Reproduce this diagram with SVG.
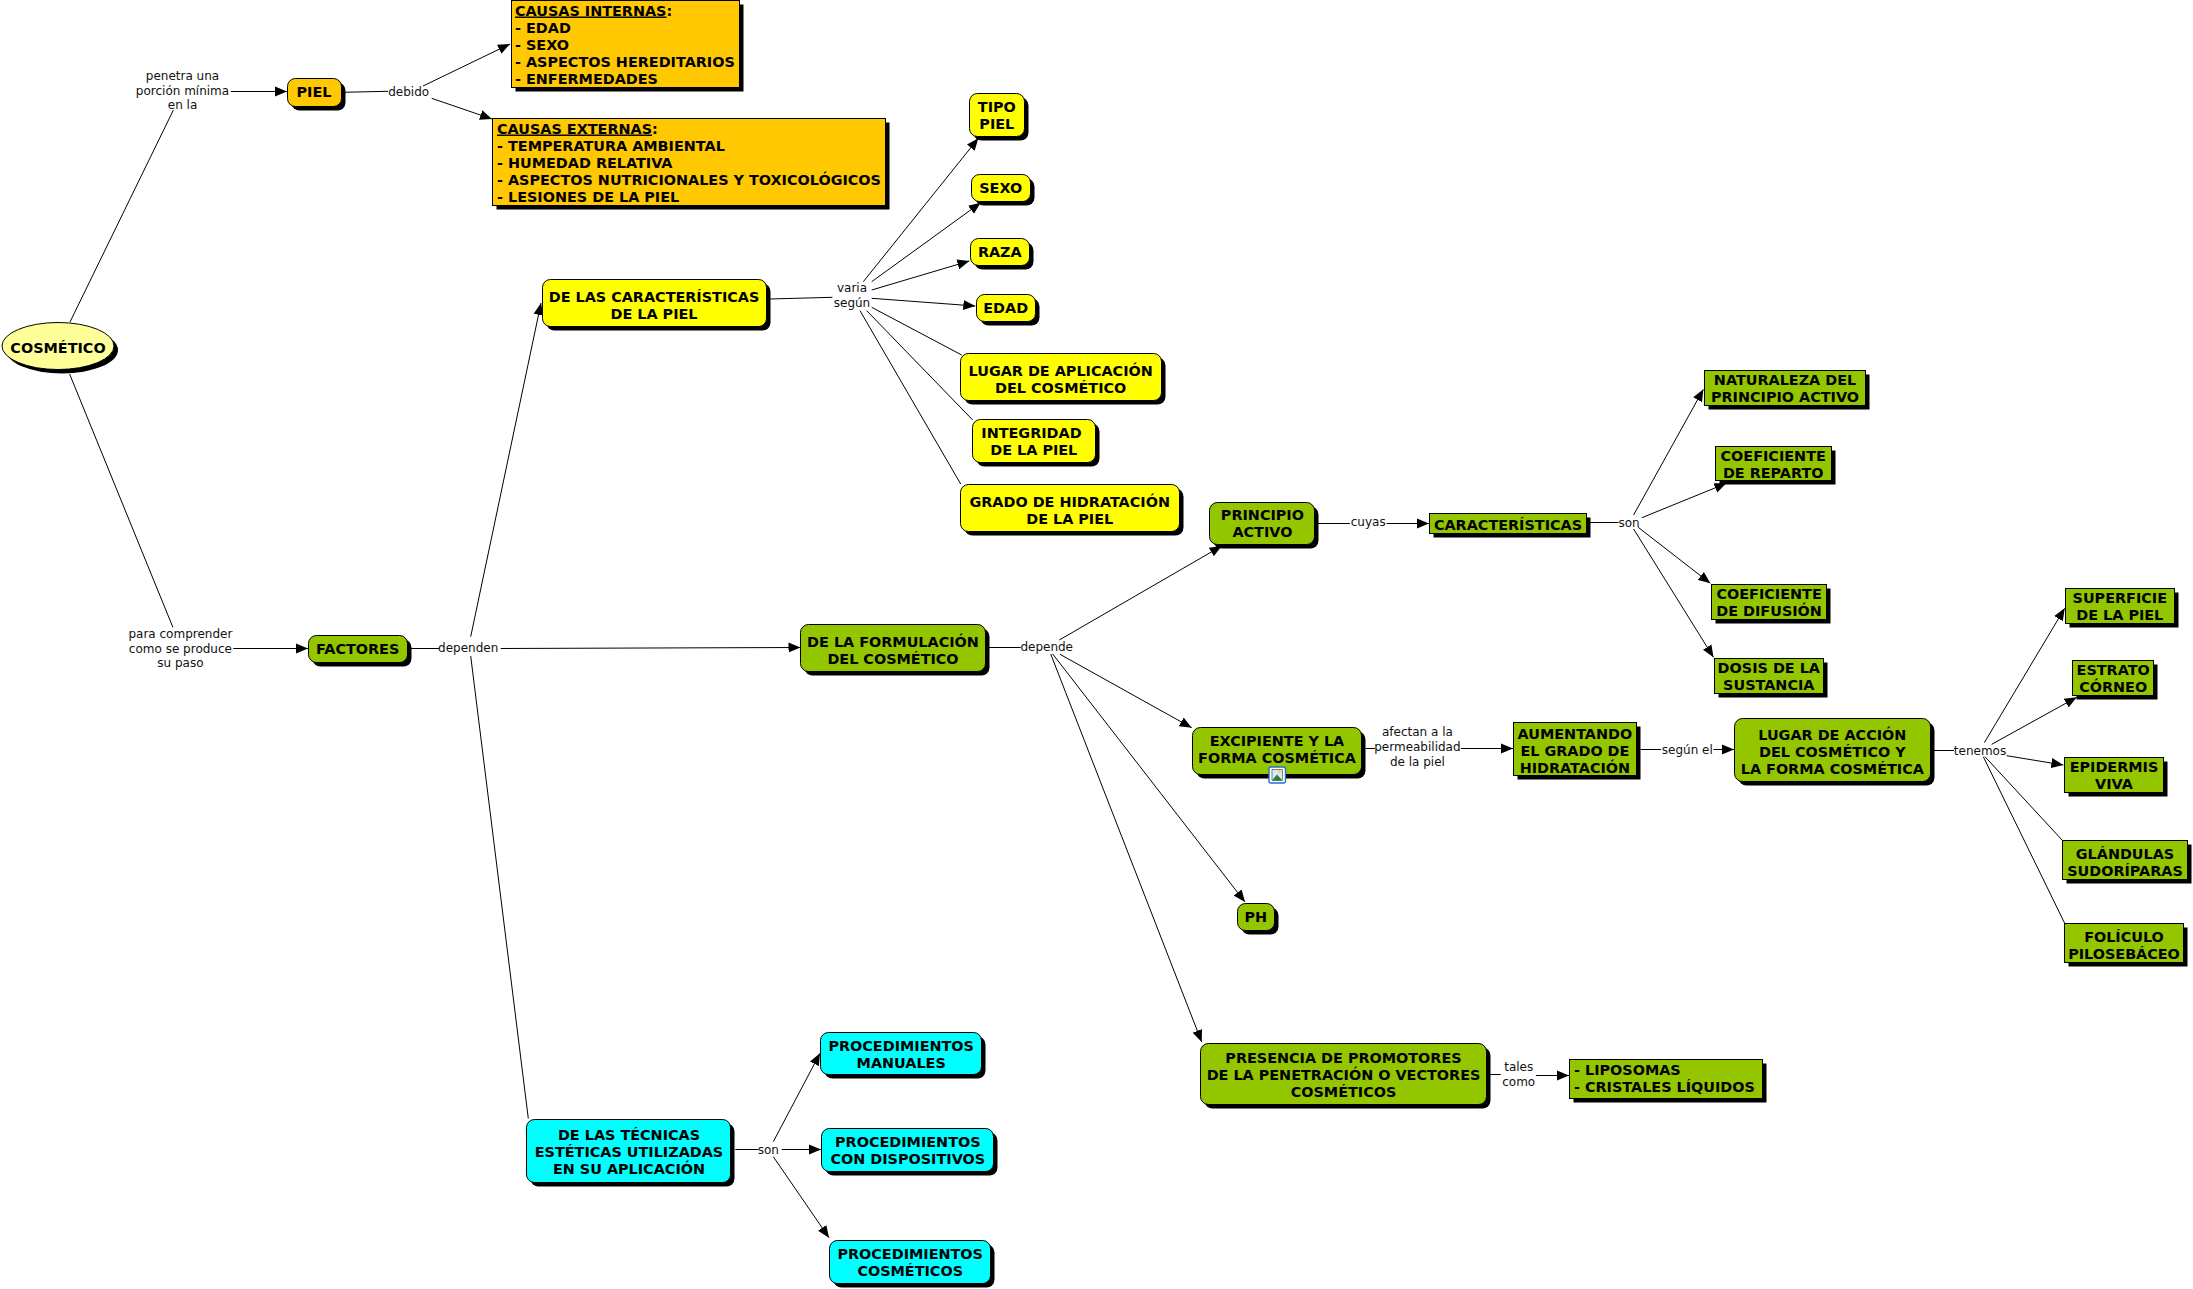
<svg xmlns="http://www.w3.org/2000/svg" width="2193" height="1289" viewBox="0 0 2193 1289">
<style>
text{font-family:"DejaVu Sans","Liberation Sans",sans-serif;fill:#000}
.b text{font-size:14.4px;font-weight:700;text-anchor:middle}
.b text.t{text-anchor:start}
.l{font-size:12px;text-anchor:middle;fill:#111}
.s{fill:#000}
.o{fill:#ffc800;stroke:#000}
.y{fill:#ff0;stroke:#000}
.g{fill:#94c600;stroke:#000}
.c{fill:#0ff;stroke:#000}
.e{fill:#ff9;stroke:#000}
#connectors line{stroke:#000;stroke-width:1}
#connectors line.a{marker-end:url(#arrow)}
</style>
<defs>
<marker id="arrow" markerUnits="userSpaceOnUse" markerWidth="13" markerHeight="11" refX="12" refY="5.5" orient="auto"><path d="M0,0.5 L12,5.5 L0,10.5 Z" fill="#000"/></marker>
</defs>
<rect width="2193" height="1289" fill="#fff"/>
<g id="connectors">
<line x1="70" y1="322" x2="173.4" y2="110"/>
<line class="a" x1="230.8" y1="91.5" x2="287" y2="91.5"/>
<line x1="342.7" y1="92.3" x2="388" y2="91.3"/>
<line class="a" x1="423" y1="86" x2="510" y2="44"/>
<line class="a" x1="431.7" y1="98.3" x2="492" y2="119"/>
<line x1="69.6" y1="374" x2="172.9" y2="627.3"/>
<line class="a" x1="233.2" y1="648.5" x2="308" y2="648.5"/>
<line x1="410.7" y1="648.5" x2="439.3" y2="648.5"/>
<line class="a" x1="470.7" y1="636.7" x2="541" y2="303"/>
<line class="a" x1="500.7" y1="648.5" x2="800.5" y2="647.5"/>
<line x1="470.7" y1="656" x2="528.3" y2="1118.5"/>
<line x1="769" y1="299" x2="832.4" y2="297.3"/>
<line class="a" x1="863.3" y1="281.7" x2="978.3" y2="138.3"/>
<line class="a" x1="871.7" y1="281.7" x2="980.7" y2="202.7"/>
<line class="a" x1="871.7" y1="290" x2="969.3" y2="261"/>
<line class="a" x1="871.7" y1="298.3" x2="975.3" y2="306"/>
<line x1="871.7" y1="307.3" x2="961.7" y2="355"/>
<line x1="866.7" y1="310.7" x2="972.7" y2="420"/>
<line x1="860" y1="310.7" x2="960.7" y2="484"/>
<line x1="735.3" y1="1149.5" x2="758.3" y2="1149.5"/>
<line class="a" x1="773.3" y1="1141.7" x2="820" y2="1053.3"/>
<line class="a" x1="781.7" y1="1149.5" x2="821" y2="1149.5"/>
<line class="a" x1="773.3" y1="1156.7" x2="829" y2="1237.7"/>
<line x1="989" y1="647.5" x2="1020.7" y2="647.5"/>
<line class="a" x1="1059.3" y1="640" x2="1221.7" y2="546"/>
<line class="a" x1="1060" y1="654.3" x2="1191.7" y2="727.7"/>
<line class="a" x1="1052.7" y1="654" x2="1245" y2="902"/>
<line class="a" x1="1050.7" y1="654" x2="1201.7" y2="1042"/>
<line x1="1317.7" y1="523.5" x2="1349.9" y2="523.5"/>
<line class="a" x1="1386.6" y1="523.5" x2="1429" y2="523.5"/>
<line x1="1589.6" y1="522.5" x2="1618.5" y2="522.5"/>
<line class="a" x1="1633.6" y1="515" x2="1703.4" y2="389.3"/>
<line class="a" x1="1641.9" y1="517.7" x2="1726.4" y2="483.3"/>
<line class="a" x1="1638.2" y1="527.3" x2="1710.3" y2="583.3"/>
<line class="a" x1="1633.6" y1="529" x2="1713.5" y2="657.3"/>
<line x1="1365.5" y1="748.5" x2="1375" y2="748.5"/>
<line class="a" x1="1461" y1="748.5" x2="1513" y2="748.5"/>
<line x1="1640.5" y1="749.5" x2="1661" y2="749.5"/>
<line class="a" x1="1713.5" y1="749.5" x2="1734" y2="749.5"/>
<line x1="1932.7" y1="750.5" x2="1954" y2="750.5"/>
<line class="a" x1="1984.3" y1="742.7" x2="2064.7" y2="608.3"/>
<line class="a" x1="1991.7" y1="744.3" x2="2076.7" y2="697.3"/>
<line class="a" x1="2006.7" y1="755.7" x2="2063.3" y2="765"/>
<line x1="1985" y1="756.7" x2="2062.7" y2="840.7"/>
<line x1="1983.3" y1="756.7" x2="2064.7" y2="923.3"/>
<line x1="1489.2" y1="1074.5" x2="1500.7" y2="1074.5"/>
<line class="a" x1="1535.9" y1="1075.5" x2="1569" y2="1075.5"/>
</g>
<g id="labels">
<text class="l" x="182.5" y="80">penetra una</text>
<text class="l" x="182.5" y="95">porción mínima</text>
<text class="l" x="182.5" y="109">en la</text>
<text class="l" x="408.7" y="95.5">debido</text>
<text class="l" x="180.4" y="638">para comprender</text>
<text class="l" x="180.4" y="652.5">como se produce</text>
<text class="l" x="180.4" y="667">su paso</text>
<text class="l" x="468.2" y="651.5">dependen</text>
<text class="l" x="852" y="292">varia</text>
<text class="l" x="852" y="306.5">según</text>
<text class="l" x="768.3" y="1153.5">son</text>
<text class="l" x="1046.7" y="650.5">depende</text>
<text class="l" x="1368.2" y="525.5">cuyas</text>
<text class="l" x="1629" y="526.5">son</text>
<text class="l" x="1417.4" y="736">afectan a la</text>
<text class="l" x="1417.4" y="751">permeabilidad</text>
<text class="l" x="1417.4" y="765.5">de la piel</text>
<text class="l" x="1687.3" y="753.5">según el</text>
<text class="l" x="1980" y="754.5">tenemos</text>
<text class="l" x="1518.7" y="1070.5">tales</text>
<text class="l" x="1518.7" y="1085.5">como</text>
</g>
<g class="b">
<g id="cosmetico"><ellipse class="s" cx="62" cy="350" rx="56" ry="23.5"/><ellipse class="e" cx="58" cy="346" rx="56" ry="23.5"/><text x="58" y="353">COSMÉTICO</text></g>
<g id="piel"><rect class="s" x="291.5" y="82.5" width="54" height="28" rx="8"/><rect class="o" x="287.5" y="78.5" width="54" height="28" rx="8"/><text x="314" y="97">PIEL</text></g>
<g id="causas-internas"><rect class="s" x="515.5" y="4.5" width="228" height="87"/><rect class="o" x="511.5" y="0.5" width="228" height="87"/><text class="t" x="515" y="15.5"><tspan text-decoration="underline">CAUSAS INTERNAS</tspan>:</text><text class="t" x="515" y="32.5">- EDAD</text><text class="t" x="515" y="49.5">- SEXO</text><text class="t" x="515" y="66.5">- ASPECTOS HEREDITARIOS</text><text class="t" x="515" y="83.5">- ENFERMEDADES</text></g>
<g id="causas-externas"><rect class="s" x="496.5" y="122.5" width="393" height="87"/><rect class="o" x="492.5" y="118.5" width="393" height="87"/><text class="t" x="497" y="133.5"><tspan text-decoration="underline">CAUSAS EXTERNAS</tspan>:</text><text class="t" x="497" y="150.5">- TEMPERATURA AMBIENTAL</text><text class="t" x="497" y="167.5">- HUMEDAD RELATIVA</text><text class="t" x="497" y="184.5">- ASPECTOS NUTRICIONALES Y TOXICOLÓGICOS</text><text class="t" x="497" y="201.5">- LESIONES DE LA PIEL</text></g>
<g id="caracteristicas-piel"><rect class="s" x="546.5" y="283.5" width="224" height="47" rx="8"/><rect class="y" x="542.5" y="279.5" width="224" height="47" rx="8"/><text x="654" y="301.5">DE LAS CARACTERÍSTICAS</text><text x="654" y="318.5">DE LA PIEL</text></g>
<g id="tipo-piel"><rect class="s" x="973.5" y="97.5" width="55" height="43" rx="8"/><rect class="y" x="969.5" y="93.5" width="55" height="43" rx="8"/><text x="996.8" y="111.5">TIPO</text><text x="996.8" y="128.5">PIEL</text></g>
<g id="sexo"><rect class="s" x="975.5" y="178.5" width="59" height="27" rx="8"/><rect class="y" x="971.5" y="174.5" width="59" height="27" rx="8"/><text x="1000.7" y="193">SEXO</text></g>
<g id="raza"><rect class="s" x="974.5" y="242.5" width="59" height="27" rx="8"/><rect class="y" x="970.5" y="238.5" width="59" height="27" rx="8"/><text x="999.8" y="257">RAZA</text></g>
<g id="edad"><rect class="s" x="980.5" y="298.5" width="59" height="27" rx="8"/><rect class="y" x="976.5" y="294.5" width="59" height="27" rx="8"/><text x="1005.7" y="313">EDAD</text></g>
<g id="lugar-aplicacion"><rect class="s" x="964.5" y="357.5" width="201" height="47" rx="8"/><rect class="y" x="960.5" y="353.5" width="201" height="47" rx="8"/><text x="1060.7" y="376">LUGAR DE APLICACIÓN</text><text x="1060.7" y="393">DEL COSMÉTICO</text></g>
<g id="integridad"><rect class="s" x="976.5" y="423.5" width="123" height="43" rx="8"/><rect class="y" x="972.5" y="419.5" width="123" height="43" rx="8"/><text x="1031.5" y="437.5">INTEGRIDAD</text><text x="1033.8" y="454.5">DE LA PIEL</text></g>
<g id="grado-hidratacion"><rect class="s" x="964.5" y="488.5" width="219" height="47" rx="8"/><rect class="y" x="960.5" y="484.5" width="219" height="47" rx="8"/><text x="1069.7" y="507">GRADO DE HIDRATACIÓN</text><text x="1069.7" y="524">DE LA PIEL</text></g>
<g id="factores"><rect class="s" x="312.5" y="639.5" width="99" height="27" rx="8"/><rect class="g" x="308.5" y="635.5" width="99" height="27" rx="8"/><text x="357.7" y="654">FACTORES</text></g>
<g id="formulacion"><rect class="s" x="804.5" y="628.5" width="185" height="47" rx="8"/><rect class="g" x="800.5" y="624.5" width="185" height="47" rx="8"/><text x="893" y="646.5">DE LA FORMULACIÓN</text><text x="893" y="663.5">DEL COSMÉTICO</text></g>
<g id="tecnicas"><rect class="s" x="530.5" y="1123.5" width="204" height="63" rx="8"/><rect class="c" x="526.5" y="1119.5" width="204" height="63" rx="8"/><text x="629" y="1140">DE LAS TÉCNICAS</text><text x="629" y="1157">ESTÉTICAS UTILIZADAS</text><text x="629" y="1174">EN SU APLICACIÓN</text></g>
<g id="manuales"><rect class="s" x="824.5" y="1036.5" width="161" height="42" rx="8"/><rect class="c" x="820.5" y="1032.5" width="161" height="42" rx="8"/><text x="901.2" y="1051">PROCEDIMIENTOS</text><text x="901.2" y="1068">MANUALES</text></g>
<g id="dispositivos"><rect class="s" x="825.5" y="1132.5" width="172" height="43" rx="8"/><rect class="c" x="821.5" y="1128.5" width="172" height="43" rx="8"/><text x="907.8" y="1146.5">PROCEDIMIENTOS</text><text x="907.8" y="1163.5">CON DISPOSITIVOS</text></g>
<g id="cosmeticos"><rect class="s" x="833.5" y="1244.5" width="161" height="43" rx="8"/><rect class="c" x="829.5" y="1240.5" width="161" height="43" rx="8"/><text x="910.2" y="1258.5">PROCEDIMIENTOS</text><text x="910.2" y="1275.5">COSMÉTICOS</text></g>
<g id="principio"><rect class="s" x="1213.5" y="506.5" width="105" height="42" rx="8"/><rect class="g" x="1209.5" y="502.5" width="105" height="42" rx="8"/><text x="1262.4" y="520">PRINCIPIO</text><text x="1262.4" y="537">ACTIVO</text></g>
<g id="caracteristicas"><rect class="s" x="1433.5" y="517.5" width="157" height="20"/><rect class="g" x="1429.5" y="513.5" width="157" height="20"/><text x="1508" y="529.5">CARACTERÍSTICAS</text></g>
<g id="naturaleza"><rect class="s" x="1708.5" y="374.5" width="161" height="35"/><rect class="g" x="1704.5" y="370.5" width="161" height="35"/><text x="1785" y="384.5">NATURALEZA DEL</text><text x="1785" y="401.5">PRINCIPIO ACTIVO</text></g>
<g id="reparto"><rect class="s" x="1719.5" y="450.5" width="116" height="34"/><rect class="g" x="1715.5" y="446.5" width="116" height="34"/><text x="1773.2" y="460.5">COEFICIENTE</text><text x="1773.2" y="477.5">DE REPARTO</text></g>
<g id="difusion"><rect class="s" x="1715.5" y="588.5" width="115" height="35"/><rect class="g" x="1711.5" y="584.5" width="115" height="35"/><text x="1769.1" y="598.5">COEFICIENTE</text><text x="1769.1" y="615.5">DE DIFUSIÓN</text></g>
<g id="dosis"><rect class="s" x="1718.5" y="662.5" width="109" height="35"/><rect class="g" x="1714.5" y="658.5" width="109" height="35"/><text x="1768.8" y="672.5">DOSIS DE LA</text><text x="1768.8" y="689.5">SUSTANCIA</text></g>
<g id="excipiente"><rect class="s" x="1196.5" y="731.5" width="169" height="47" rx="8"/><rect class="g" x="1192.5" y="727.5" width="169" height="47" rx="8"/><text x="1277" y="746">EXCIPIENTE Y LA</text><text x="1277" y="763">FORMA COSMÉTICA</text><g id="icono"><rect x="1269" y="767" width="16.5" height="16" rx="2" fill="#fff" stroke="#2a6fc0" stroke-width="1.4"/><rect x="1272" y="769.5" width="10.5" height="11" fill="#dfe9f2" stroke="#333" stroke-width=".6"/><path d="M1272,780.5 L1277,774.5 L1282.5,780.5 Z" fill="#2f7a4a"/><circle cx="1279.5" cy="771.5" r="1.6" fill="#f0d060"/></g></g>
<g id="aumentando"><rect class="s" x="1517.5" y="726.5" width="123" height="53"/><rect class="g" x="1513.5" y="722.5" width="123" height="53"/><text x="1574.9" y="738.5">AUMENTANDO</text><text x="1574.9" y="755.5">EL GRADO DE</text><text x="1574.9" y="772.5">HIDRATACIÓN</text></g>
<g id="lugar-accion"><rect class="s" x="1738.5" y="722.5" width="196" height="63" rx="8"/><rect class="g" x="1734.5" y="718.5" width="196" height="63" rx="8"/><text x="1832.3" y="739.5">LUGAR DE ACCIÓN</text><text x="1832.3" y="756.5">DEL COSMÉTICO Y</text><text x="1832.3" y="773.5">LA FORMA COSMÉTICA</text></g>
<g id="superficie"><rect class="s" x="2069.5" y="592.5" width="109" height="35"/><rect class="g" x="2065.5" y="588.5" width="109" height="35"/><text x="2119.8" y="602.5">SUPERFICIE</text><text x="2119.8" y="619.5">DE LA PIEL</text></g>
<g id="estrato"><rect class="s" x="2076.5" y="664.5" width="81" height="35"/><rect class="g" x="2072.5" y="660.5" width="81" height="35"/><text x="2113.2" y="674.5">ESTRATO</text><text x="2113.2" y="691.5">CÓRNEO</text></g>
<g id="epidermis"><rect class="s" x="2068.5" y="761.5" width="99" height="35"/><rect class="g" x="2064.5" y="757.5" width="99" height="35"/><text x="2114" y="771.5">EPIDERMIS</text><text x="2114" y="788.5">VIVA</text></g>
<g id="glandulas"><rect class="s" x="2066.5" y="844.5" width="125" height="39"/><rect class="g" x="2062.5" y="840.5" width="125" height="39"/><text x="2125" y="858.5">GLÁNDULAS</text><text x="2125" y="875.5">SUDORÍPARAS</text></g>
<g id="foliculo"><rect class="s" x="2068.5" y="927.5" width="119" height="39"/><rect class="g" x="2064.5" y="923.5" width="119" height="39"/><text x="2124" y="941.5">FOLÍCULO</text><text x="2124" y="958.5">PILOSEBÁCEO</text></g>
<g id="ph"><rect class="s" x="1241.5" y="907.5" width="37" height="27" rx="8"/><rect class="g" x="1237.5" y="903.5" width="37" height="27" rx="8"/><text x="1255.8" y="922">PH</text></g>
<g id="presencia"><rect class="s" x="1204.5" y="1047.5" width="286" height="61" rx="8"/><rect class="g" x="1200.5" y="1043.5" width="286" height="61" rx="8"/><text x="1343.5" y="1062.5">PRESENCIA DE PROMOTORES</text><text x="1343.5" y="1079.5">DE LA PENETRACIÓN O VECTORES</text><text x="1343.5" y="1096.5">COSMÉTICOS</text></g>
<g id="liposomas"><rect class="s" x="1573.5" y="1063.5" width="193" height="39"/><rect class="g" x="1569.5" y="1059.5" width="193" height="39"/><text class="t" x="1574" y="1074.5">- LIPOSOMAS</text><text class="t" x="1574" y="1091.5">- CRISTALES LÍQUIDOS</text></g>
</g>
</svg>
